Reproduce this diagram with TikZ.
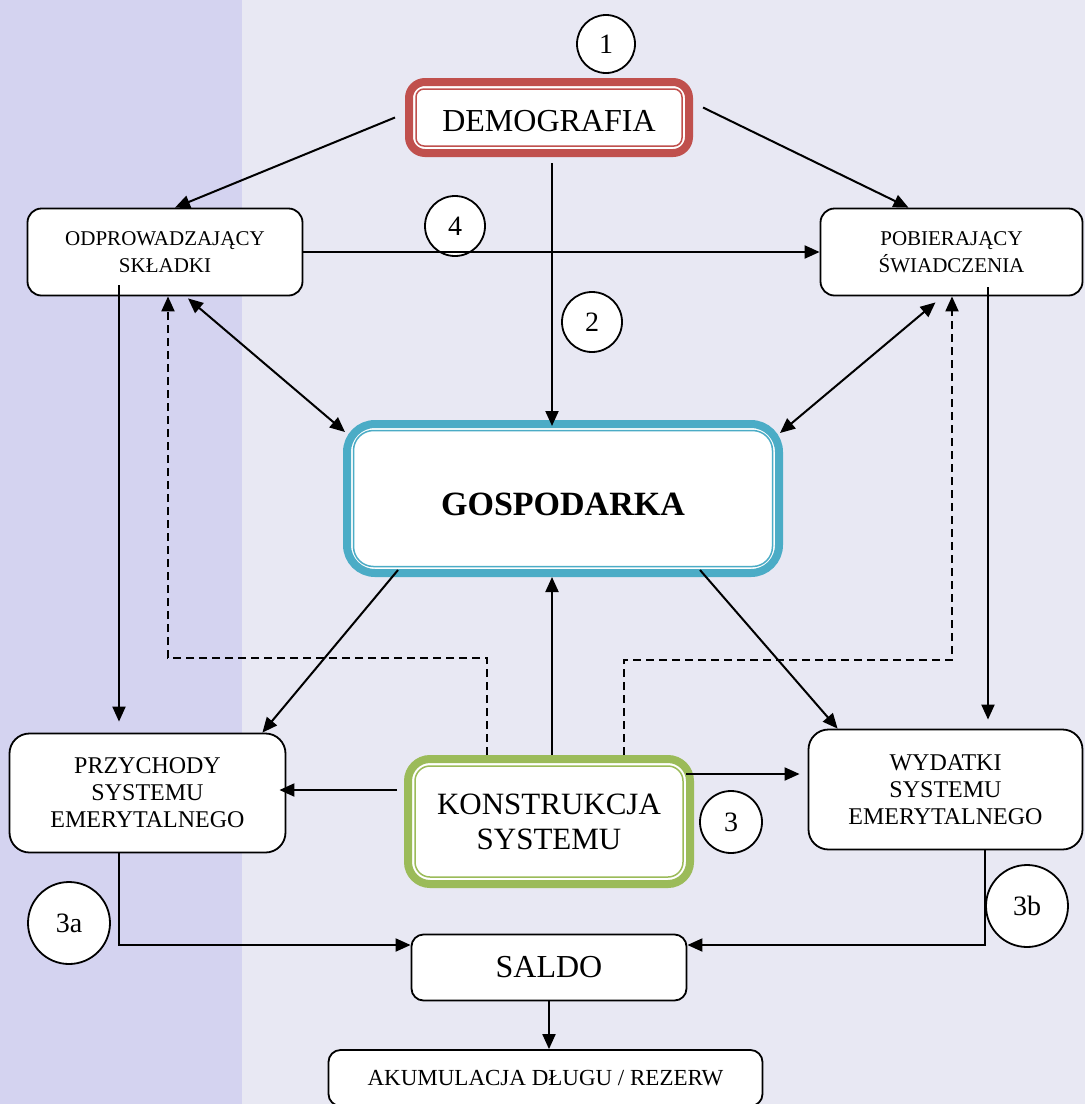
\documentclass[tikz,border=0pt]{standalone}
\usepackage{fontspec}
\setmainfont{Liberation Serif}
\usetikzlibrary{arrows.meta}

\definecolor{stripe}{HTML}{D4D3F0}
\definecolor{paper}{HTML}{E8E8F3}
\definecolor{demored}{HTML}{C0504D}
\definecolor{gospblue}{HTML}{4BACC6}
\definecolor{konstgreen}{HTML}{9BBB59}

\tikzset{
  box/.style={draw, line width=1.8pt, rounded corners=14pt, fill=white,
    align=center, inner sep=0pt},
  framed/.style={draw=#1, line width=8pt, rounded corners=16pt, fill=white,
    align=center, inner sep=0pt},
  num/.style={circle, draw, line width=1.8pt, fill=white, inner sep=0pt,
    font=\fontsize{28}{30}\selectfont},
  arr/.style={line width=2pt, -{Triangle[length=15pt,width=13pt]}},
  dblarr/.style={line width=2pt, {Triangle[length=15pt,width=13pt]}-{Triangle[length=15pt,width=13pt]}},
  dasharr/.style={arr, dashed, dash pattern=on 8pt off 5pt}
}

\begin{document}
\begin{tikzpicture}[x=1pt, y=-1pt]
  % background
  \useasboundingbox (0,0) rectangle (1085,1104);
  \fill[paper] (0,0) rectangle (1085,1104);
  \fill[stripe] (0,0) rectangle (242,1104);

  % main boxes
  \node[framed=demored, minimum width=280pt, minimum height=71pt,
    font=\fontsize{32}{36}\selectfont] (demo) at (549,117.5)
    {\raisebox{-4pt}[\height][\depth]{DEMOGRAFIA}};
  \draw[demored, line width=1.5pt, rounded corners=8pt]
    ([shift={(11,11)}]demo.north west) rectangle ([shift={(-11,-11)}]demo.south east);

  \node[framed=gospblue, minimum width=432pt, minimum height=149pt,
    rounded corners=28pt, font=\fontsize{34}{38}\selectfont\bfseries] (gosp) at (563,498.5)
    {\raisebox{-6pt}[\height][\depth]{GOSPODARKA}};
  \draw[gospblue, line width=1.5pt, rounded corners=20pt]
    ([shift={(10.5,10.5)}]gosp.north west) rectangle ([shift={(-10.5,-10.5)}]gosp.south east);

  \node[framed=konstgreen, minimum width=282pt, minimum height=125pt,
    rounded corners=22pt, font=\fontsize{31}{35}\selectfont] (konst) at (549,821.5) {KONSTRUKCJA\\SYSTEMU};
  \draw[konstgreen, line width=1.5pt, rounded corners=15pt]
    ([shift={(11,11)}]konst.north west) rectangle ([shift={(-11,-11)}]konst.south east);

  \node[box, minimum width=275pt, minimum height=87pt,
    font=\fontsize{21}{27}\selectfont] (odp) at (165,252) {ODPROWADZAJĄCY\\SKŁADKI};
  \node[box, minimum width=262pt, minimum height=87pt,
    font=\fontsize{21}{27}\selectfont] (pob) at (951.5,252) {POBIERAJĄCY\\ŚWIADCZENIA};
  \node[box, minimum width=276pt, minimum height=119pt, rounded corners=20pt,
    font=\fontsize{24}{27}\selectfont] (przy) at (147.5,793) {PRZYCHODY\\SYSTEMU\\EMERYTALNEGO};
  \node[box, minimum width=274pt, minimum height=120pt, rounded corners=20pt,
    font=\fontsize{24}{27}\selectfont] (wyd) at (945.5,789.5) {WYDATKI\\SYSTEMU\\EMERYTALNEGO};
  \node[box, minimum width=275pt, minimum height=66pt, rounded corners=12pt,
    font=\fontsize{32}{36}\selectfont] (saldo) at (549,967.5) {SALDO};
  \node[box, minimum width=434pt, minimum height=56pt, rounded corners=12pt,
    font=\fontsize{23}{27}\selectfont] (akum) at (545.5,1078) {AKUMULACJA DŁUGU / REZERW};

  % numbered circles
  \node[num, minimum size=58pt] (n1) at (606,44) {1};
  \node[num, minimum size=60pt] (n4) at (455,226) {4};
  \node[num, minimum size=60pt] (n2) at (592,322) {2};
  \node[num, minimum size=62pt] (n3) at (731,822) {3};
  \node[num, minimum size=82pt] (n3a) at (69,923) {3a};
  \node[num, minimum size=82pt] (n3b) at (1027,906) {3b};

  % connectors
  \draw[arr] ([xshift=-10pt]demo.west) -- ([xshift=10pt]odp.north);
  \draw[arr] ([xshift=10pt,yshift=10pt]demo.east) -- ([xshift=-43pt]pob.north);
  \draw[arr] ([xshift=3pt,yshift=-6pt]demo.south) -- ([xshift=3pt,yshift=-6pt]demo.south |- gosp.north);
  \draw[arr] (odp.east) -- (pob.west);
  \draw[dblarr] ([xshift=23pt,yshift=-2pt]odp.south) -- ([xshift=2pt,yshift=-12pt]gosp.north west);
  \draw[dblarr] ([xshift=-16pt,yshift=-6pt]pob.south) -- ([xshift=-3pt,yshift=-13pt]gosp.north east);
  \draw[arr] ([xshift=-46pt,yshift=11pt]odp.south) -- ([xshift=-46pt,yshift=11pt]odp.south |- przy.north);
  \draw[arr] ([xshift=36.5pt,yshift=9pt]pob.south) -- ([xshift=36.5pt,yshift=9pt]pob.south |- wyd.north);
  \draw[arr] ([xshift=-165pt,yshift=7pt]gosp.south) -- ([xshift=-24pt]przy.north east);
  \draw[arr] ([xshift=137pt,yshift=7pt]gosp.south) -- ([xshift=30pt]wyd.north west);
  \draw[arr] ([xshift=3pt]konst.north) -- ([xshift=3pt]konst.north |- gosp.south);
  \draw[arr] ([xshift=-7pt,yshift=31.5pt]konst.west) -- ([xshift=-7pt,yshift=31.5pt]konst.west -| przy.east);
  \draw[arr] ([xshift=-8pt,yshift=47.5pt]konst.east) -- ([xshift=-8pt,yshift=47.5pt]konst.east -| wyd.west);
  \draw[dasharr] ([xshift=-62pt]konst.north) -- ++(0,-97) -| ([xshift=3pt]odp.south);
  \draw[dasharr] ([xshift=75pt]konst.north) -- ++(0,-95) -| ([xshift=0.5pt]pob.south);
  \draw[arr] ([xshift=-28.5pt]przy.south) |- ([yshift=22.5pt]saldo.west);
  \draw[arr] ([xshift=39.5pt]wyd.south) |- ([yshift=22.5pt]saldo.east);
  \draw[arr] (saldo.south) -- (saldo.south |- akum.north);
\end{tikzpicture}
\end{document}
